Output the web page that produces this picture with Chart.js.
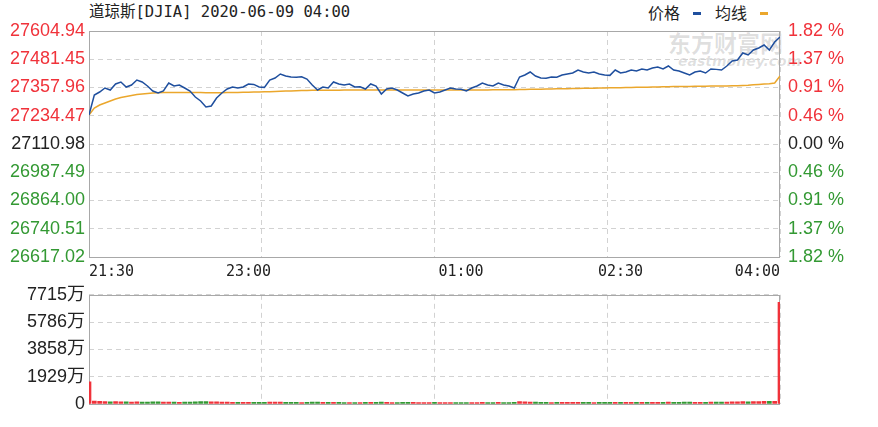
<!DOCTYPE html>
<html>
<head>
<meta charset="utf-8">
<script src="https://cdn.jsdelivr.net/npm/chart.js@4.4.1/dist/chart.umd.min.js"></script>
<style>
    body { margin: 0; background: #fff; }
    #wrap { position: relative; width: 878px; height: 427px; overflow: hidden; }
    #title {
        position: absolute; left: 89px; top: 2px; white-space: nowrap; color: #222;
        font: 15.5px "DejaVu Sans Mono", "Noto Sans CJK SC", monospace; line-height: 20px;
    }
    #legend {
        position: absolute; left: 648px; top: 1px; white-space: nowrap; color: #222;
        font: 16px "Noto Sans CJK SC", sans-serif; line-height: 22px;
    }
    #legend i { display: inline-block; width: 8px; height: 3px; vertical-align: middle; margin: 0 14px 2px 13px; }
    #mark { position: absolute; left: 668px; top: 30px; color: rgba(0,0,0,0.13); white-space: nowrap; }
    #mark b { display: block; font: bold 23px "Noto Sans CJK SC", sans-serif; line-height: 24px; }
    #mark em { display: block; font: italic bold 14px "DejaVu Sans", sans-serif; line-height: 14px; margin-left: 10px; }
    #priceChart { position: absolute; left: 0; top: 0; }
    #volChart { position: absolute; left: 0; top: 280px; }
</style>
</head>
<body>
<div id="wrap">
    <div id="mark"><b>东方财富网</b><em>eastmoney.com</em></div>
    <div id="title">道琼斯[DJIA] 2020-06-09 04:00</div>
    <div id="legend">价格<i style="background:#1f4f9e"></i>均线<i style="background:#eba72c"></i></div>
    <canvas id="priceChart" width="878" height="290"></canvas>
    <canvas id="volChart" width="878" height="147"></canvas>
</div>
<script>
// one sample every 3 minutes, 21:30 -> 04:00
const minuteStep = 3;

const price = [
    27237.7, 27325.2, 27338.3, 27355.8, 27347.0, 27373.3, 27382.0, 27360.1, 27368.9, 27390.7,
    27382.0, 27364.5, 27342.7, 27333.9, 27342.7, 27377.6, 27364.5, 27368.9, 27355.8, 27342.7,
    27316.5, 27298.9, 27272.7, 27277.1, 27312.1, 27333.9, 27351.4, 27360.1, 27355.8, 27360.1,
    27373.3, 27371.5, 27360.1, 27358.6, 27390.7, 27399.5, 27417.0, 27408.2, 27403.9, 27402.5,
    27404.6, 27395.1, 27368.9, 27347.0, 27360.1, 27355.8, 27382.0, 27373.3, 27368.9, 27373.3,
    27360.1, 27361.4, 27351.4, 27373.3, 27364.5, 27329.6, 27351.4, 27355.8, 27347.0, 27333.9,
    27320.8, 27329.6, 27333.9, 27342.7, 27347.0, 27333.9, 27338.3, 27347.0, 27355.8, 27351.4,
    27350.2, 27342.7, 27355.8, 27364.5, 27377.6, 27368.9, 27364.5, 27377.6, 27368.9, 27364.5,
    27355.8, 27403.9, 27412.6, 27425.7, 27408.2, 27399.5, 27398.1, 27403.9, 27402.7, 27412.6,
    27417.0, 27421.3, 27434.5, 27425.7, 27421.3, 27425.7, 27417.0, 27412.6, 27411.0, 27434.5,
    27421.3, 27425.7, 27434.5, 27430.1, 27438.8, 27434.5, 27443.2, 27447.6, 27438.8, 27451.9,
    27434.5, 27430.1, 27421.3, 27412.6, 27425.7, 27430.1, 27421.3, 27438.8, 27437.2, 27434.5,
    27451.9, 27473.8, 27478.1, 27508.7, 27500.0, 27521.9, 27530.6, 27543.7, 27521.9, 27556.9,
    27578.7
];

const avgPrice = [
    27237.7, 27268.3, 27281.5, 27290.2, 27298.9, 27307.7, 27314.3, 27318.6, 27323.0, 27327.4,
    27329.6, 27331.7, 27333.9, 27334.8, 27335.6, 27336.0, 27336.3, 27336.5, 27336.6, 27336.6,
    27336.4, 27336.0, 27335.5, 27335.2, 27335.3, 27335.5, 27335.8, 27336.2, 27336.6, 27337.1,
    27337.6, 27338.2, 27338.7, 27339.1, 27339.8, 27340.6, 27341.5, 27342.4, 27343.2, 27343.9,
    27344.6, 27345.2, 27345.5, 27345.6, 27345.7, 27345.8, 27346.1, 27346.4, 27346.6, 27346.8,
    27347.0, 27347.1, 27347.2, 27347.4, 27347.5, 27347.4, 27347.4, 27347.5, 27347.5, 27347.4,
    27347.3, 27347.2, 27347.1, 27347.1, 27347.1, 27347.0, 27346.9, 27346.9, 27346.9, 27346.9,
    27346.9, 27346.9, 27347.0, 27347.1, 27347.3, 27347.5, 27347.7, 27347.9, 27348.1, 27348.3,
    27348.4, 27348.8, 27349.3, 27349.9, 27350.4, 27350.8, 27351.2, 27351.6, 27352.0, 27352.4,
    27352.8, 27353.3, 27353.8, 27354.3, 27354.7, 27355.2, 27355.6, 27356.0, 27356.4, 27356.9,
    27357.3, 27357.7, 27358.2, 27358.6, 27359.1, 27359.5, 27360.0, 27360.5, 27360.9, 27361.4,
    27361.8, 27362.2, 27362.5, 27362.8, 27363.1, 27363.4, 27363.7, 27364.0, 27364.3, 27364.6,
    27365.0, 27365.5, 27366.1, 27366.8, 27368.0, 27370.0, 27371.5, 27373.0, 27374.8, 27377.6,
    27408.2
];

// volume in 万
const volume = [
    1560, 210, 185, 170, 160, 165, 150, 155, 140, 148,
    135, 142, 158, 150, 138, 144, 130, 125, 136, 141,
    160, 172, 178, 152, 145, 139, 128, 122, 118, 126,
    115, 120, 112, 124, 133, 139, 129, 118, 114, 110,
    108, 116, 130, 140, 122, 113, 119, 111, 107, 105,
    109, 103, 114, 118, 111, 134, 121, 109, 106, 115,
    123, 117, 108, 104, 100, 111, 106, 102, 98, 101,
    96, 104, 102, 108, 112, 104, 100, 110, 102, 106,
    115, 168, 145, 134, 127, 119, 113, 109, 111, 116,
    118, 113, 124, 120, 111, 108, 116, 113, 111, 126,
    120, 118, 122, 116, 120, 118, 124, 122, 120, 129,
    125, 120, 127, 131, 123, 120, 125, 129, 127, 131,
    138, 149, 158, 166, 160, 170, 176, 184, 181, 195,
    7180
];

const priceTicks = [26617.02, 26740.51, 26864.00, 26987.49, 27110.98, 27234.47, 27357.96, 27481.45, 27604.94];
const pctLabels = ['1.82 %', '1.37 %', '0.91 %', '0.46 %', '0.00 %', '0.46 %', '0.91 %', '1.37 %', '1.82 %'];
const volTicks = [0, 1928.75, 3857.5, 5786.25, 7715];
const volLabels = ['0', '1929万', '3858万', '5786万', '7715万'];
const gridMinutes = [0, 97.5, 195, 292.5, 390];
const timeMinutes = [0, 90, 210, 300, 390];
const timeLabels = ['21:30', '23:00', '01:00', '02:30', '04:00'];

const RED = '#f0323a';
const GREEN = '#339933';
const DARK = '#222';
const GRID = '#d2d2d2';

// Colour the price axis labels like the original: up red, flat dark, down green
function sideColor(ctx) {
    if (ctx.index < 4) return GREEN;
    if (ctx.index === 4) return DARK;
    return RED;
}

// Plain gray box around each plot area
const framePlugin = {
    id: 'frame',
    beforeDatasetsDraw(chart) {
        const { ctx, chartArea: a } = chart;
        ctx.save();
        ctx.strokeStyle = '#a8a8a8';
        ctx.lineWidth = 1;
        ctx.strokeRect(Math.round(a.left) + 0.5, Math.round(a.top) + 0.5,
            Math.round(a.right - a.left) - 1, Math.round(a.bottom - a.top));
        ctx.restore();
    }
};

const labelFont = { family: '"Liberation Sans", Arial, "Noto Sans CJK SC", sans-serif', size: 18 };
const timeFont = { family: '"DejaVu Sans Mono", monospace', size: 15 };

new Chart(document.getElementById('priceChart'), {
    type: 'line',
    data: {
        datasets: [{
            label: '价格',
            data: price.map((v, i) => ({ x: i * minuteStep, y: v })),
            borderColor: '#1f4f9e',
            borderWidth: 1.5,
            pointRadius: 0,
            tension: 0
        }, {
            label: '均线',
            data: avgPrice.map((v, i) => ({ x: i * minuteStep, y: v })),
            borderColor: '#eba72c',
            borderWidth: 1.5,
            pointRadius: 0,
            tension: 0
        }]
    },
    options: {
        responsive: false,
        animation: false,
        layout: { padding: { top: 31, left: 0, right: 0, bottom: 0 } },
        plugins: { legend: { display: false }, tooltip: { enabled: false } },
        scales: {
            x: {
                type: 'linear', min: 0, max: 390, weight: 0,
                afterBuildTicks: s => { s.ticks = gridMinutes.map(v => ({ value: v })); },
                afterFit: s => { s.height = 0; },
                ticks: { display: false },
                grid: { color: GRID, drawTicks: false },
                border: { display: false, dash: [5, 4] }
            },
            xl: {
                type: 'linear', position: 'bottom', min: 0, max: 390, weight: 1,
                afterBuildTicks: s => { s.ticks = timeMinutes.map(v => ({ value: v })); },
                afterFit: s => { s.height = 33; },
                ticks: {
                    align: 'inner', padding: 6, color: DARK, font: timeFont, maxRotation: 0,
                    callback: (v, i) => timeLabels[i]
                },
                grid: { display: false, drawTicks: false },
                border: { display: false }
            },
            y: {
                position: 'left', min: priceTicks[0], max: priceTicks[8],
                afterBuildTicks: s => { s.ticks = priceTicks.map(v => ({ value: v })); },
                afterFit: s => { s.width = 89; },
                ticks: {
                    padding: 4, font: labelFont, color: sideColor,
                    callback: v => v.toFixed(2)
                },
                grid: { color: GRID, drawTicks: false },
                border: { display: false, dash: [5, 4] }
            },
            y1: {
                position: 'right', min: priceTicks[0], max: priceTicks[8],
                afterBuildTicks: s => { s.ticks = priceTicks.map(v => ({ value: v })); },
                afterFit: s => { s.width = 98; },
                ticks: {
                    padding: 8, font: labelFont, color: sideColor,
                    callback: (v, i) => pctLabels[i]
                },
                grid: { display: false, drawTicks: false },
                border: { display: false }
            }
        }
    },
    plugins: [framePlugin]
});

new Chart(document.getElementById('volChart'), {
    type: 'bar',
    data: {
        datasets: [{
            label: '成交量',
            data: volume.map((v, i) => ({ x: i * minuteStep, y: v })),
            backgroundColor: volume.map((v, i) => (i === 0 || price[i] >= price[i - 1]) ? RED : GREEN),
            barThickness: 4
        }]
    },
    options: {
        responsive: false,
        animation: false,
        layout: { padding: { top: 14, left: 0, right: 98, bottom: 0 } },
        plugins: { legend: { display: false }, tooltip: { enabled: false } },
        scales: {
            x: {
                type: 'linear', min: 0, max: 390, offset: false,
                afterBuildTicks: s => { s.ticks = gridMinutes.map(v => ({ value: v })); },
                afterFit: s => { s.height = 23; },
                ticks: { display: false },
                grid: { color: GRID, drawTicks: false, offset: false },
                border: { display: false, dash: [5, 4] }
            },
            y: {
                min: 0, max: 7715,
                afterBuildTicks: s => { s.ticks = volTicks.map(v => ({ value: v })); },
                afterFit: s => { s.width = 89; },
                ticks: {
                    padding: 4, font: labelFont, color: DARK,
                    callback: (v, i) => volLabels[i]
                },
                grid: { color: GRID, drawTicks: false },
                border: { display: false, dash: [5, 4] }
            }
        }
    },
    plugins: [framePlugin]
});
</script>
</body>
</html>
